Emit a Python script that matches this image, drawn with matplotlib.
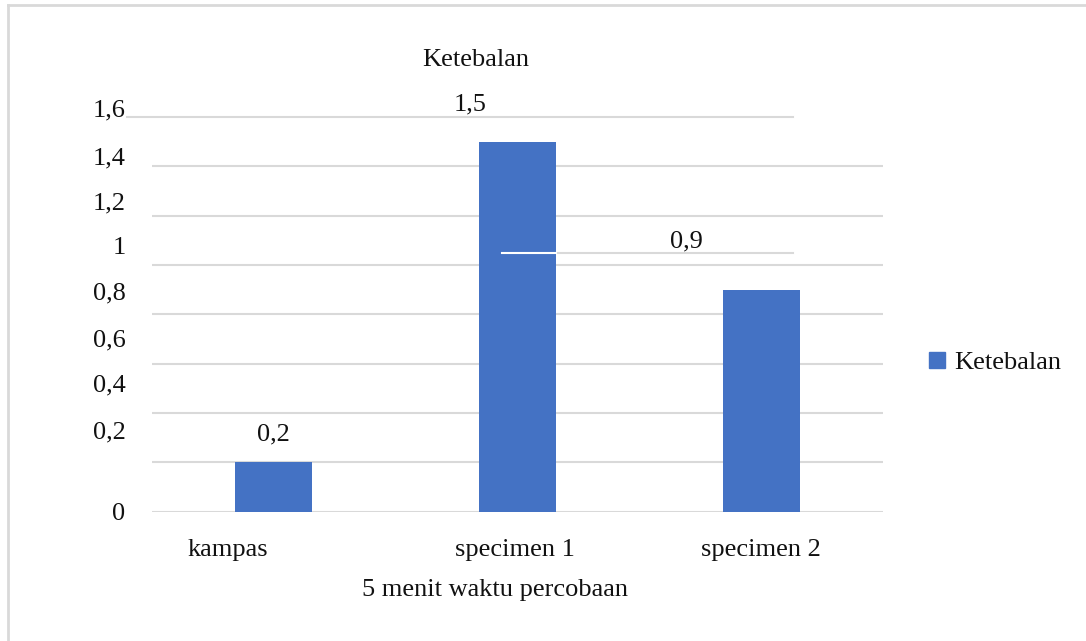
import matplotlib.pyplot as plt
import matplotlib.transforms as mtransforms
from matplotlib.patches import Patch
from matplotlib.lines import Line2D

categories = ["kampas", "specimen 1", "specimen 2"]
ketebalan = [0.2, 1.5, 0.9]
value_labels = ["0,2", "1,5", "0,9"]
y_ticks = [0, 0.2, 0.4, 0.6, 0.8, 1.0, 1.2, 1.4, 1.6]
y_tick_labels = ["0", "0,2", "0,4", "0,6", "0,8", "1", "1,2", "1,4", "1,6"]

# layout quirks of the original (pixels)
tick_shift_up = [0, 32, 30, 26, 23, 19, 15, 10, 9]
label_offsets = [(0, 28), (-47, 37), (-75, 48)]
cat_shift = [-46, -3, 0]

plt.rcParams['font.family'] = ['Liberation Serif', 'DejaVu Serif']
blue = "#4472C4"
grid_c = "#D9D9D9"
fs = 19

fig = plt.figure(figsize=(10.86, 6.41), dpi=100)
ax = fig.add_axes([152 / 1086, 1 - 511.5 / 641, 731 / 1086, 394.5 / 641])

x = range(len(categories))
ax.bar(x, ketebalan, width=0.316, color=blue, zorder=2)
ax.set_xlim(-0.5, 2.5)
ax.set_ylim(0, 1.6)

# gridlines (top one is shorter and starts further left)
for y in y_ticks[:-1]:
    ax.axhline(y, color=grid_c, lw=1.5, zorder=1)
ax.axhline(1.6, xmin=-0.034, xmax=0.877, color=grid_c, lw=1.5, zorder=1, clip_on=False)
# stray line crossing the middle bar
ax.axhline(1.05, xmin=0.553, xmax=0.877, color=grid_c, lw=1.5, zorder=1)
ax.axhline(1.05, xmin=0.479, xmax=0.553, color="white", lw=1.5, zorder=3)

for s in ax.spines.values():
    s.set_visible(False)
ax.tick_params(length=0)

ax.set_yticks(y_ticks)
ax.set_yticklabels(y_tick_labels, fontsize=fs, color="#111111")
ax.tick_params(axis='y', pad=19)
for lbl, dy in zip(ax.get_yticklabels(), tick_shift_up):
    lbl.set_transform(lbl.get_transform() + mtransforms.ScaledTranslation(0, dy / 100, fig.dpi_scale_trans))

ax.set_xticks(list(x))
ax.set_xticklabels(categories, fontsize=fs, color="#111111")
ax.tick_params(axis='x', pad=20)
for lbl, dx in zip(ax.get_xticklabels(), cat_shift):
    lbl.set_transform(lbl.get_transform() + mtransforms.ScaledTranslation(dx / 100, 0, fig.dpi_scale_trans))

for i, (v, t) in enumerate(zip(ketebalan, value_labels)):
    dx, dy = label_offsets[i]
    ax.annotate(t, (i, v), xytext=(dx * 0.72, dy * 0.72), textcoords="offset points",
                ha="center", va="center", fontsize=fs, color="#111111")

fig.text(476 / 1086, 1 - 60 / 641, "Ketebalan", ha="center", va="center", fontsize=fs, color="#111111")
fig.text(495 / 1086, 1 - 590 / 641, "5 menit waktu percobaan", ha="center", va="center",
         fontsize=fs, color="#111111")

leg = ax.legend(handles=[Patch(color=blue, label="Ketebalan")], loc="center left",
                bbox_to_anchor=(929 / 1086, 1 - 363 / 641), bbox_transform=fig.transFigure,
                frameon=False, fontsize=fs, handlelength=0.6, handleheight=0.6,
                handletextpad=0.35, borderpad=0, borderaxespad=0)
for t in leg.get_texts():
    t.set_color("#111111")

# outer frame (only top and left edges show)
fig.add_artist(Line2D([8 / 1086, 1], [1 - 5 / 641, 1 - 5 / 641], color="#D9D9D9", lw=2, transform=fig.transFigure))
fig.add_artist(Line2D([8 / 1086, 8 / 1086], [0, 1 - 5 / 641], color="#D9D9D9", lw=2, transform=fig.transFigure))

fig.savefig("out.png", dpi=100)
